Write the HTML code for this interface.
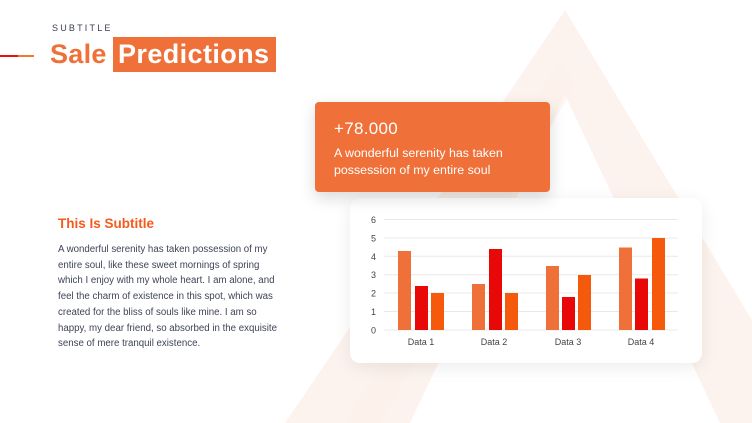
<!DOCTYPE html>
<html><head><meta charset="utf-8"><style>
body{margin:0;width:752px;height:423px;overflow:hidden;background:#fff;position:relative;font-family:"Liberation Sans",sans-serif}
.a{position:absolute;white-space:nowrap}
</style></head><body>
<svg class="a" style="left:0;top:0" width="752" height="423">
<polygon points="565,10 752,320 752,423 285,423" fill="#fdf3ee"/>
<polygon points="565,95 720,423 410,423" fill="#fff"/>
<polygon points="345,423 560,60 575,85 380,423" fill="#fcefe8" opacity="0.5"/>
<line x1="0" y1="56" x2="18" y2="56" stroke="#e81010" stroke-width="2"/>
<line x1="18" y1="56" x2="34" y2="56" stroke="#f07a2a" stroke-width="2"/>
</svg>
<div class="a" style="left:52px;top:23px;font-size:9px;letter-spacing:2.2px;color:#3a4050">SUBTITLE</div>
<div class="a" style="left:50px;top:39px;font-size:27px;font-weight:bold;color:#f07039;line-height:30px;letter-spacing:0.3px">Sale</div>
<div class="a" style="left:113px;top:37px;width:163px;height:35px;background:#f07039"></div>
<div class="a" style="left:118px;top:39px;font-size:27px;font-weight:bold;color:#fff;line-height:30px;letter-spacing:0.4px">Predictions</div>

<div class="a" style="left:58px;top:216px;font-size:13.5px;font-weight:bold;color:#f55a1c">This Is Subtitle</div>
<div class="a" style="left:58px;top:242px;font-size:9.7px;line-height:15.7px;color:#3e4358">A wonderful serenity has taken possession of my<br>entire soul, like these sweet mornings of spring<br>which I enjoy with my whole heart. I am alone, and<br>feel the charm of existence in this spot, which was<br>created for the bliss of souls like mine. I am so<br>happy, my dear friend, so absorbed in the exquisite<br>sense of mere tranquil existence.</div>

<div class="a" style="left:350px;top:198px;width:352px;height:165px;background:#fff;border-radius:10px;box-shadow:0 4px 18px rgba(0,0,0,0.08)"></div>
<svg class="a" style="left:0;top:0" width="752" height="423" font-family="Liberation Sans, sans-serif" font-size="9" fill="#444">
<g stroke="#e8e8e8" stroke-width="1">
<line x1="384" x2="678" y1="219.5" y2="219.5"/><line x1="384" x2="678" y1="238" y2="238"/><line x1="384" x2="678" y1="256.3" y2="256.3"/><line x1="384" x2="678" y1="274.7" y2="274.7"/><line x1="384" x2="678" y1="293" y2="293"/><line x1="384" x2="678" y1="311.5" y2="311.5"/><line x1="384" x2="678" y1="330" y2="330"/>
</g>
<g text-anchor="end"><text x="376" y="223">6</text><text x="376" y="241.5">5</text><text x="376" y="260">4</text><text x="376" y="278">3</text><text x="376" y="296.5">2</text><text x="376" y="315">1</text><text x="376" y="333.5">0</text></g>
<g text-anchor="middle"><text x="421" y="345">Data 1</text><text x="494" y="345">Data 2</text><text x="568" y="345">Data 3</text><text x="641" y="345">Data 4</text></g>
<g fill="#f07039"><rect x="398" y="251" width="13" height="79"/><rect x="472" y="284" width="13" height="46"/><rect x="546" y="266" width="13" height="64"/><rect x="619" y="247.5" width="13" height="82.5"/></g>
<g fill="#e80808"><rect x="415" y="286" width="13" height="44"/><rect x="489" y="249" width="13" height="81"/><rect x="562" y="297" width="13" height="33"/><rect x="635" y="278.5" width="13" height="51.5"/></g>
<g fill="#f55a0c"><rect x="431" y="293" width="13" height="37"/><rect x="505" y="293" width="13" height="37"/><rect x="578" y="275" width="13" height="55"/><rect x="652" y="238" width="13" height="92"/></g>
</svg>

<div class="a" style="left:315px;top:102px;width:235px;height:90px;background:#f07039;border-radius:4px;box-shadow:0 6px 16px rgba(0,0,0,0.15)"></div>
<div class="a" style="left:334px;top:119px;font-size:17px;color:#fff;letter-spacing:0.3px">+78.000</div>
<div class="a" style="left:334px;top:145px;font-size:12.4px;line-height:17px;color:#fff">A wonderful serenity has taken<br>possession of my entire soul</div>
</body></html>
